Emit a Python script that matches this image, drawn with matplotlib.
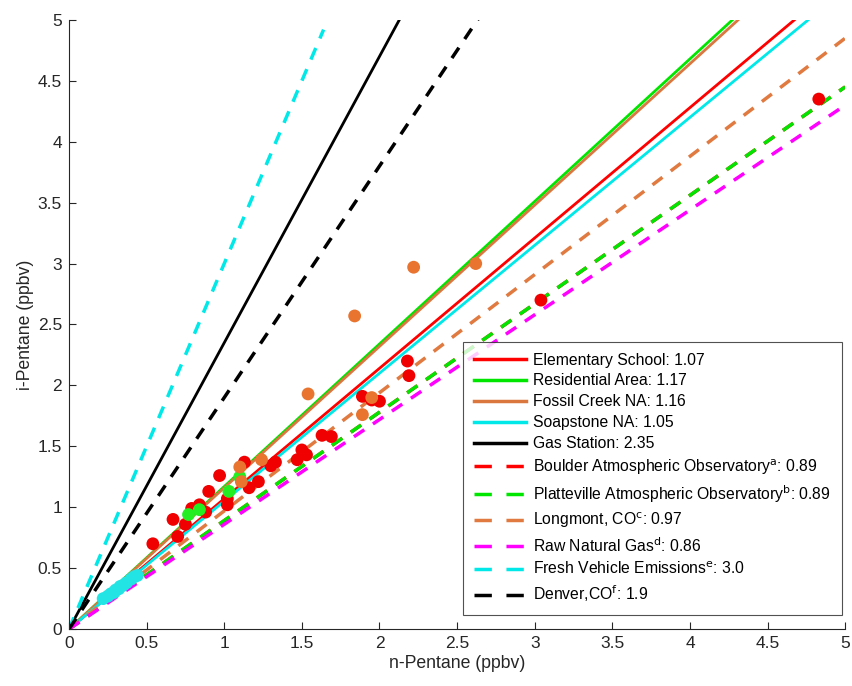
import numpy as np
import matplotlib.pyplot as plt
from matplotlib.lines import Line2D

plt.rcParams['font.family'] = ['Liberation Sans', 'DejaVu Sans']

# measured points (n-pentane, i-pentane), ppbv
school_x = [0.54, 0.67, 0.70, 0.75, 0.79, 0.84, 0.88, 0.90, 0.97, 1.02, 1.02, 1.13, 1.16,
            1.22, 1.30, 1.33, 1.47, 1.50, 1.53, 1.63, 1.69, 1.89, 1.95, 2.00, 2.18, 2.19,
            3.04, 4.83]
school_y = [0.70, 0.90, 0.76, 0.86, 0.99, 1.02, 0.96, 1.13, 1.26, 1.02, 1.07, 1.37, 1.16,
            1.21, 1.34, 1.37, 1.39, 1.47, 1.43, 1.59, 1.58, 1.91, 1.88, 1.87, 2.20, 2.08,
            2.70, 4.35]
resid_x = [0.77, 0.84, 1.03, 1.10]
resid_y = [0.94, 0.98, 1.13, 1.25]
fossil_x = [1.10, 1.11, 1.24, 1.54, 1.84, 2.22, 2.62, 1.95, 1.89]
fossil_y = [1.33, 1.21, 1.39, 1.93, 2.57, 2.97, 3.00, 1.90, 1.76]
soap_x = [0.22, 0.25, 0.27, 0.29, 0.30, 0.32, 0.33, 0.35, 0.37, 0.40, 0.42, 0.44]
soap_y = [0.25, 0.27, 0.29, 0.30, 0.32, 0.33, 0.35, 0.36, 0.38, 0.41, 0.43, 0.44]

# ratio lines (slope of i-pentane vs n-pentane)
solid_names = ['Elementary School', 'Residential Area', 'Fossil Creek NA', 'Soapstone NA', 'Gas Station']
solid_slopes = [1.07, 1.17, 1.16, 1.05, 2.35]
solid_colors = ['#ff0000', '#00e600', '#d9773f', '#00e8e8', 'black']

dash_names = ['Boulder Atmospheric Observatory$^{\\rm a}$', 'Platteville Atmospheric Observatory$^{\\rm b}$',
              'Longmont, CO$^{\\rm c}$', 'Raw Natural Gas$^{\\rm d}$',
              'Fresh Vehicle Emissions$^{\\rm e}$', 'Denver,CO$^{\\rm f}$']
dash_slopes = [0.89, 0.89, 0.97, 0.86, 3.0, 1.9]
dash_labels = ['0.89', '0.89', '0.97', '0.86', '3.0', '1.9']
dash_colors = ['#ff0000', '#00e600', '#e07a40', '#ff00ff', '#00e8e8', 'black']
dash_xmax = [5, 5, 5, 5, 1.64, 5]

fig = plt.figure(figsize=(8.52, 6.86), dpi=100)
ax = fig.add_axes([0.081, 0.083, 0.911, 0.888])

handles = []
labels = []
xx = np.array([0, 5.0])
for name, s, c in zip(solid_names, solid_slopes, solid_colors):
    ax.plot(xx, s * xx, color=c, lw=2.0, zorder=2)
    handles.append(Line2D([], [], color=c, lw=2.5))
    labels.append(f'{name}: {s:.2f}')
for name, s, lab, c, xm in zip(dash_names, dash_slopes, dash_labels, dash_colors, dash_xmax):
    xd = np.array([0, xm])
    ax.plot(xd, s * xd, color=c, lw=2.5, dashes=(3.6, 3.0), zorder=2)
    handles.append(Line2D([], [], color=c, lw=2.5, dashes=(5.0, 4.2)))
    labels.append(f'{name}: {lab}')

ms = 85
ax.scatter(school_x, school_y, s=ms, color='#f00000', edgecolors='none', zorder=3)
ax.scatter(resid_x, resid_y, s=ms, color='#22ee22', edgecolors='none', zorder=3)
ax.scatter(fossil_x, fossil_y, s=ms, color='#e8742f', edgecolors='none', zorder=3)
ax.scatter(soap_x, soap_y, s=ms, color='#22e4e4', edgecolors='none', zorder=3)

ax.set_xlim(0, 5)
ax.set_ylim(0, 5)
ticks = np.arange(0, 5.01, 0.5)
ax.set_xticks(ticks)
ax.set_yticks(ticks)
ax.set_xticklabels([f'{t:g}' for t in ticks])
ax.set_yticklabels([f'{t:g}' for t in ticks])
ax.tick_params(direction='in', length=5, labelsize=12.5, colors='#262626', pad=5)
for side in ['top', 'right']:
    ax.spines[side].set_visible(False)
for side in ['left', 'bottom']:
    ax.spines[side].set_color('#262626')
    ax.spines[side].set_linewidth(0.8)

ax.set_xlabel('n-Pentane (ppbv)', fontsize=12.7, color='#262626', labelpad=3)
ax.set_ylabel('i-Pentane (ppbv)', fontsize=12.7, color='#262626', labelpad=3)

leg = ax.legend(handles, labels, loc='lower right', bbox_to_anchor=(0.996, 0.023), fontsize=11.3,
                frameon=True, fancybox=False, edgecolor='#262626', handlelength=3.3,
                handletextpad=0.45, borderpad=0.7, labelspacing=0.38, borderaxespad=0)
leg.get_frame().set_linewidth(0.8)

fig.savefig('out.png', dpi=100)
